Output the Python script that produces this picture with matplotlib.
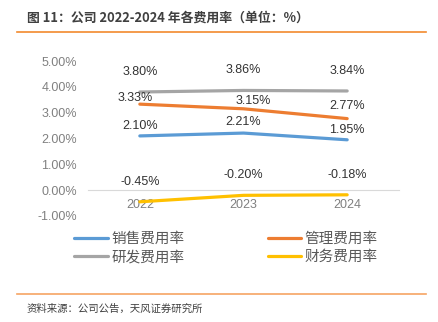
import matplotlib
matplotlib.use("Agg")
from matplotlib import pyplot as plt

plt.rcParams['font.family'] = ['Noto Sans CJK SC', 'DejaVu Sans']

years = ['2022', '2023', '2024']
xiaoshou = [2.10, 2.21, 1.95]
guanli = [3.33, 3.15, 2.77]
yanfa = [3.80, 3.86, 3.84]
caiwu = [-0.45, -0.20, -0.18]

series = [
    ('销售费用率', xiaoshou, '#5B9BD5', [(0, -10), (0, -11), (0, -10)]),
    ('管理费用率', guanli, '#ED7D31', [(-5, -6), (10, -8), (0, -13)]),
    ('研发费用率', yanfa, '#A5A5A5', [(0, -20), (0, -20), (0, -20)]),
    ('财务费用率', caiwu, '#FFC000', [(0, -20), (0, -20), (0, -20)]),
]

W, H = 439, 322
fig = plt.figure(figsize=(W / 100, H / 100), dpi=100)

# title and orange rules
fig.text(27 / W, 1 - 18 / H, '图 11：公司 2022-2024 年各费用率（单位：%）',
         fontsize=9.3, fontweight='bold', color='#404040', va='center', ha='left')
fig.add_artist(plt.Line2D([17 / W, 426 / W], [1 - 32 / H, 1 - 32 / H], color='#F28A2E', lw=1.2))
fig.add_artist(plt.Line2D([17 / W, 426 / W], [1 - 294 / H, 1 - 294 / H], color='#F6A463', lw=1.2))
fig.text(27 / W, 1 - 309 / H, '资料来源：公司公告，天风证券研究所',
         fontsize=7.5, color='#404040', va='center', ha='left')

x0, x1 = 88, 399
y_top, y_bot = 61, 216
ax = fig.add_axes([x0 / W, 1 - y_bot / H, (x1 - x0) / W, (y_bot - y_top) / H])
ax.set_xlim(-0.5, 2.5)
ax.set_ylim(-1, 5)

xs = range(len(years))
for name, vals, col, offs in series:
    ax.plot(xs, vals, color=col, lw=2.3, solid_capstyle='round', label=name)
    for i, v in enumerate(vals):
        ax.annotate('%.2f%%' % v, (i, v), xytext=(offs[i][0] * 0.72, -offs[i][1] * 0.72),
                    textcoords='offset points', ha='center', va='center',
                    fontsize=9, color='#333333', family=['Liberation Sans', 'DejaVu Sans'])

for s in ['top', 'right', 'left']:
    ax.spines[s].set_visible(False)
ax.spines['bottom'].set_position(('data', 0))
ax.spines['bottom'].set_color('#D9D9D9')
ax.set_xticks(list(xs))
ax.set_xticklabels(years)
ax.set_yticks([-1, 0, 1, 2, 3, 4, 5])
ax.set_yticklabels(['%.2f%%' % t for t in [-1, 0, 1, 2, 3, 4, 5]])
ax.tick_params(axis='both', length=0, colors='#808080', labelsize=9)
ax.tick_params(axis='x', pad=6)
for lab in ax.get_xticklabels() + ax.get_yticklabels():
    lab.set_family(['Liberation Sans', 'DejaVu Sans'])
ax.tick_params(axis='y', pad=8)

handles, labels = ax.get_legend_handles_labels()
order = [0, 2, 1, 3]
fig.legend([handles[i] for i in order], [labels[i] for i in order],
           ncol=2, loc='center', bbox_to_anchor=(226 / W, 1 - 248 / H),
           frameon=False, fontsize=10.5, labelcolor='#595959',
           handlelength=2.3, handletextpad=0.25, columnspacing=5.7,
           labelspacing=0.3)

fig.savefig('out.png', dpi=100)
